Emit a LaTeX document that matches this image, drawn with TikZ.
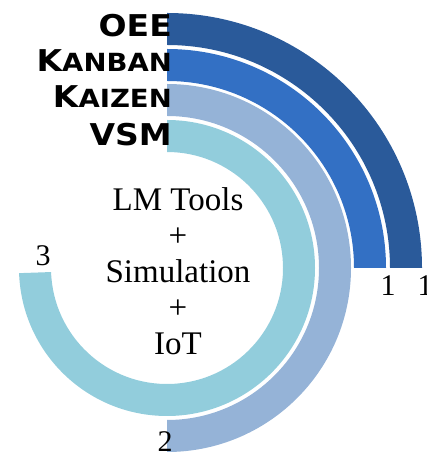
\documentclass[tikz,border=0pt]{standalone}
\usepackage{fontspec}
\setmainfont{Liberation Serif}
\newfontfamily\tagfont[FakeStretch=1.1]{DejaVu Sans}
\usetikzlibrary{positioning}
\definecolor{ringOee}{HTML}{2A5A9A}
\definecolor{ringKanban}{HTML}{3370C4}
\definecolor{ringKaizen}{HTML}{95B3D7}
\definecolor{ringVsm}{HTML}{92CDDC}

\begin{document}
\begin{tikzpicture}[
    x=1pt, y=1pt,
    % --- ring styles ---
    oee/.style={fill=ringOee},
    kanban/.style={fill=ringKanban},
    kaizen/.style={fill=ringKaizen},
    vsm/.style={fill=ringVsm},
    % --- text styles ---
    tag/.style={anchor=base east, inner sep=0pt,
                font=\tagfont\bfseries\fontsize{30}{30}\selectfont},
    val/.style={inner sep=0pt, font=\fontsize{30}{30}\selectfont},
    hub/.style={anchor=north, inner sep=0pt, align=center,
                font=\fontsize{33}{36}\selectfont},
]
\useasboundingbox (0,0) rectangle (427,457);

\coordinate (ctr) at (167,189);

% ===== RINGS ================================================================
\fill[oee] (ctr) ++(90:255pt) arc[start angle=90, end angle=0, radius=255pt]
    -- ++(180:32pt) arc[start angle=0, end angle=90, radius=223pt] -- cycle;
\fill[kanban] (ctr) ++(90:219pt) arc[start angle=90, end angle=0, radius=219pt]
    -- ++(180:32pt) arc[start angle=0, end angle=90, radius=187pt] -- cycle;
\fill[kaizen] (ctr) ++(90:184pt) arc[start angle=90, end angle=-90, radius=184pt]
    -- ++(90:32pt) arc[start angle=-90, end angle=90, radius=152pt] -- cycle;
\fill[vsm] (ctr) ++(90:148pt) arc[start angle=90, end angle=-178, radius=148pt]
    -- ++(2:32pt) arc[start angle=-178, end angle=90, radius=116pt] -- cycle;

% ===== RING NAMES ===========================================================
\node[tag] (tOee) at (172,420.5) {OEE};
\node[tag] (tKanban) at (172,385)
    {K{\fontsize{25}{25}\selectfont ANBAN}};
\node[tag] (tKaizen) at (172,349)
    {K{\fontsize{25}{25}\selectfont AIZEN}};
\node[tag] (tVsm) at (172,311) {VSM};

% ===== VALUES ===============================================================
\node[val] (vKanban) at (388,171) {1};
\node[val] (vOee) at (425,171) {1};
\node[val] (vKaizen) at (165,15) {2};
\node[val] (vVsm) at (43,201) {3};

% ===== HUB ==================================================================
\node[hub] (hub) at (178,270)
    {LM Tools\\+\\Simulation\\+\\IoT};

\end{tikzpicture}
\end{document}
